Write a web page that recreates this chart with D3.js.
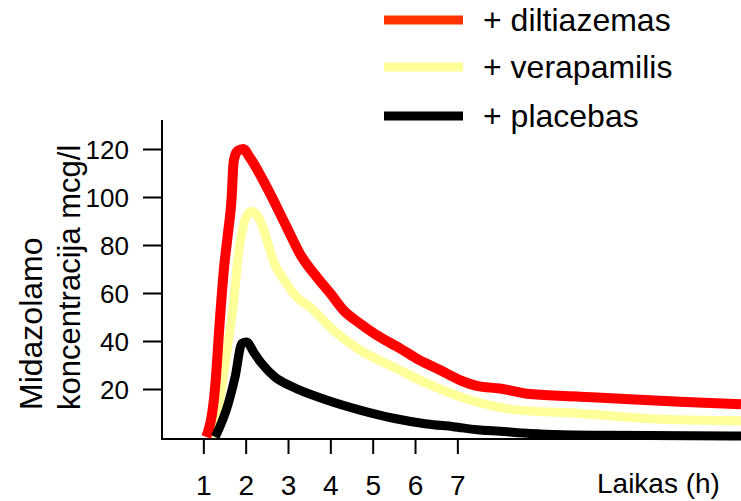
<!DOCTYPE html>
<html><head><meta charset="utf-8">
<script src="https://cdn.jsdelivr.net/npm/d3@7"></script>
<style>body{margin:0;background:#fff}svg{display:block}text{font-family:"Liberation Sans",Arial,sans-serif;fill:#000}</style>
</head><body><svg id="c" width="741" height="501"></svg>
<script>
const seriesNames = ["+ diltiazemas", "+ verapamilis", "+ placebas"];
const seriesColors = ["#ff0000", "#ffff99", "#000000"];
const legendColors = ["#ff3300", "#ffff99", "#000000"];
const xTicks = [1, 2, 3, 4, 5, 6, 7];
const yTicks = [20, 40, 60, 80, 100, 120];

const timeDiltiazemas = [1.07,1.28,1.39,1.49,1.59,1.67,1.71,1.75,1.82,1.94,2.10,2.50,2.97,3.28,3.68,4.00,4.31,4.70,5.10,5.65,6.04,6.59,7.06,7.46,8.00,8.72,9.90,11.08,12.26,13.70];
const valDiltiazemas  = [0,21,48.6,70.7,86.1,100,113.8,117.3,119.3,120,116.4,104,87.4,76.4,66.6,59.8,52.8,47.3,42.4,36.9,32.7,27.9,23.7,21.3,20.2,17.9,16.8,15.7,14.7,13.6];

const timeVerapamilis = [1.20,1.28,1.55,1.71,1.83,1.98,2.13,2.34,2.53,2.65,2.97,3.20,3.52,4.07,4.70,5.49,6.28,7.06,7.54,8.32,9.90,11.86,13.70];
const valVerapamilis  = [0,5,34.8,55.6,76.4,90.2,94,90.2,80.5,73.6,63.9,58.3,54.2,44.5,36.2,29.2,22.3,16.8,14.2,11.4,9.8,7.4,6.8];

const timePlacebas = [1.28,1.59,1.75,1.91,2.02,2.20,2.38,2.69,3.09,3.91,4.70,5.49,6.28,6.90,7.54,8.00,8.72,10.50,13.70];
const valPlacebas  = [0,14,25,39,39.6,35,30.6,25,21,15.4,11.2,7.8,5.4,4.3,2.9,2.4,1.5,0.7,0.4];

const svg = d3.select("#c");
const x = d3.scaleLinear().domain([0, 13.7]).range([161, 741]);
const y = d3.scaleLinear().domain([0, 120]).range([437, 149]);

// axes
svg.append("line").attr("x1",162).attr("x2",162).attr("y1",120).attr("y2",439).attr("stroke","#000").attr("stroke-width",2);
svg.append("line").attr("x1",161).attr("x2",741).attr("y1",439).attr("y2",439).attr("stroke","#000").attr("stroke-width",2);

const yAxis = d3.axisLeft(y).tickValues(yTicks).tickSize(18).tickPadding(14);
const gy = svg.append("g").attr("transform","translate(161,0)").call(yAxis);
gy.select(".domain").remove();
gy.selectAll("line").attr("stroke","#000").attr("stroke-width",2);
gy.selectAll("text").attr("font-size",26).attr("font-family","Liberation Sans, Arial, sans-serif").attr("dy","0.35em");

const xAxis = d3.axisBottom(x).tickValues(xTicks).tickSize(15).tickPadding(21).tickFormat(d3.format("d"));
const gx = svg.append("g").attr("transform","translate(0,439)").call(xAxis);
gx.select(".domain").remove();
gx.selectAll("line").attr("stroke","#000").attr("stroke-width",2);
gx.selectAll("text").attr("font-size",28).attr("font-family","Liberation Sans, Arial, sans-serif");

svg.append("text").attr("x",597).attr("y",493).attr("font-size",28).text("Laikas (h)");

// y title
svg.append("text").attr("transform","translate(42,410) rotate(-90)").attr("font-size",32).text("Midazolamo");
svg.append("text").attr("transform","translate(80,410) rotate(-90)").attr("font-size",31).text("koncentracija mcg/l");

// lines
const line = d3.line().x(d=>x(d[0])).y(d=>y(d[1])).curve(d3.curveMonotoneX);
const seriesData = [
  d3.zip(timeDiltiazemas, valDiltiazemas),
  d3.zip(timeVerapamilis, valVerapamilis),
  d3.zip(timePlacebas, valPlacebas)
];
const widths = [10, 9, 9];
const order = [1, 0, 2];
const plot = svg.append("g");
order.forEach(i => {
  plot.append("path").datum(seriesData[i]).attr("d", line)
    .attr("fill","none").attr("stroke",seriesColors[i]).attr("stroke-width",widths[i])
    .attr("stroke-linejoin","round").attr("stroke-linecap","butt");
});

// legend
const legY = [20, 67, 116];
seriesNames.forEach((n,i) => {
  svg.append("line").attr("x1",384).attr("x2",463).attr("y1",legY[i]).attr("y2",legY[i])
    .attr("stroke",legendColors[i]).attr("stroke-width",9);
  svg.append("text").attr("x",483).attr("y",legY[i]+11).attr("font-size",32).text(n);
});
</script></body></html>
